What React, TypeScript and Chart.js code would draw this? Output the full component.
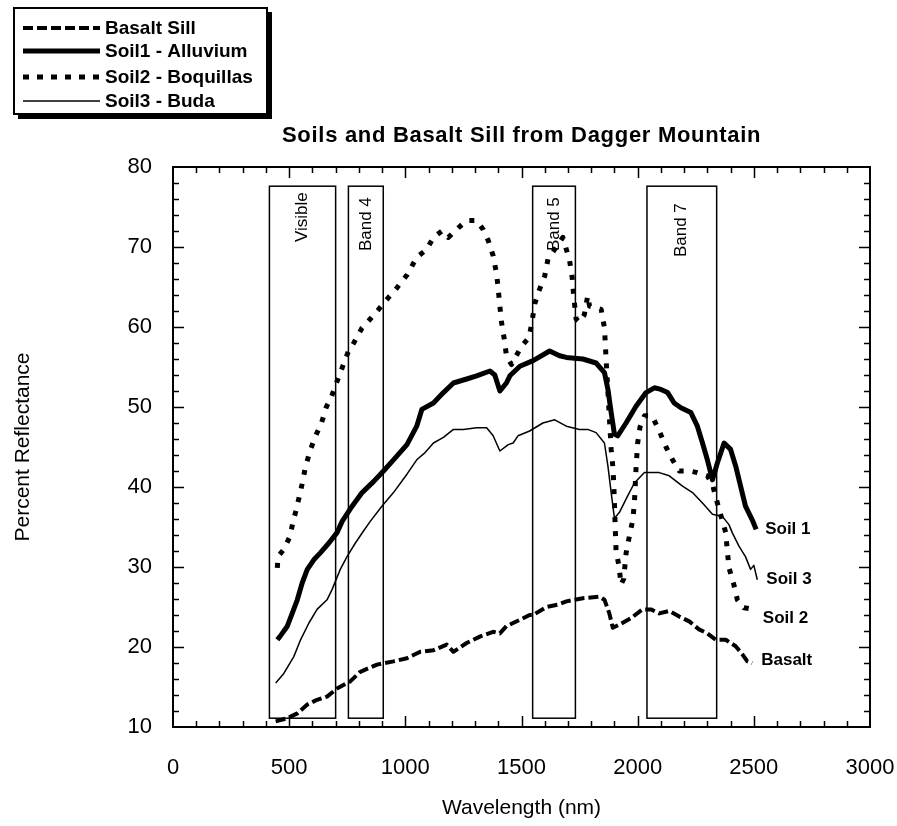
import React, { useEffect, useRef } from 'react';
import { Chart, registerables } from 'chart.js';

Chart.register(...registerables);

const FONT = '"Liberation Sans", Arial, Helvetica, sans-serif';

// ---------- data ----------
const seriesNames = ['Basalt Sill', 'Soil1 - Alluvium', 'Soil2 - Boquillas', 'Soil3 - Buda'];
const endLabels = ['Basalt', 'Soil 1', 'Soil 2', 'Soil 3'];

const basaltWl = [442, 492, 535, 578, 620, 663, 706, 763, 806, 878, 949, 1007, 1064, 1121, 1178, 1207, 1264, 1321, 1378, 1407, 1435, 1464, 1493, 1535, 1550, 1607, 1657, 1693, 1764, 1835, 1857, 1878, 1893, 1921, 1971, 2021, 2057, 2093, 2136, 2179, 2222, 2264, 2300, 2336, 2379, 2422, 2450, 2472, 2493];
const basaltRefl = [10.7, 11.1, 11.7, 12.8, 13.4, 13.8, 14.8, 15.7, 16.9, 17.8, 18.2, 18.6, 19.4, 19.6, 20.3, 19.4, 20.5, 21.3, 21.9, 21.7, 22.6, 23.0, 23.4, 24.0, 24.0, 25.0, 25.3, 25.7, 26.1, 26.3, 25.9, 24.2, 22.4, 22.8, 23.6, 24.7, 24.7, 24.2, 24.5, 23.8, 23.2, 22.2, 21.7, 20.9, 20.9, 20.1, 19.1, 18.2, 18.0];

const soil1Wl = [449, 460, 470, 492, 513, 535, 556, 578, 606, 635, 671, 706, 728, 771, 814, 864, 906, 949, 1007, 1049, 1071, 1121, 1164, 1207, 1264, 1307, 1364, 1385, 1407, 1435, 1450, 1493, 1550, 1621, 1664, 1693, 1764, 1821, 1857, 1872, 1886, 1900, 1914, 1950, 1993, 2036, 2072, 2100, 2129, 2157, 2186, 2229, 2257, 2279, 2300, 2322, 2343, 2372, 2400, 2422, 2443, 2464, 2493, 2510];
const soil1Refl = [20.9, 21.3, 21.7, 22.6, 24.2, 25.9, 28.0, 29.7, 30.9, 31.8, 33.0, 34.3, 35.7, 37.6, 39.3, 40.7, 42.0, 43.4, 45.3, 47.6, 49.7, 50.5, 51.8, 53.0, 53.5, 53.9, 54.5, 54.0, 52.0, 53.0, 53.9, 55.1, 55.8, 57.0, 56.4, 56.2, 56.0, 55.5, 54.3, 52.2, 49.3, 46.6, 46.4, 48.0, 50.1, 51.8, 52.4, 52.2, 51.8, 50.5, 49.9, 49.3, 47.6, 45.5, 43.4, 40.9, 43.0, 45.5, 44.7, 42.6, 40.1, 37.6, 35.9, 34.7];

const soil2Wl = [449, 452, 477, 503, 517, 530, 542, 556, 570, 589, 609, 639, 660, 681, 706, 732, 754, 778, 814, 849, 885, 928, 964, 1007, 1049, 1092, 1121, 1157, 1185, 1228, 1264, 1307, 1335, 1357, 1378, 1393, 1400, 1407, 1414, 1428, 1435, 1457, 1500, 1533, 1547, 1557, 1575, 1600, 1614, 1650, 1678, 1707, 1718, 1724, 1735, 1749, 1770, 1785, 1793, 1843, 1857, 1861, 1864, 1886, 1893, 1897, 1904, 1907, 1921, 1928, 1940, 1950, 1964, 1979, 1986, 1993, 2000, 2010, 2029, 2062, 2093, 2122, 2150, 2179, 2222, 2257, 2300, 2322, 2343, 2379, 2386, 2393, 2414, 2429, 2457, 2500];
const soil2Refl = [29.9, 31.3, 32.2, 33.8, 35.7, 37.1, 38.6, 40.4, 42.5, 44.4, 46.1, 48.0, 50.0, 51.2, 53.2, 55.2, 56.9, 58.0, 59.9, 61.0, 62.2, 63.7, 64.9, 66.5, 68.7, 69.7, 71.2, 72.0, 71.2, 72.4, 73.3, 73.3, 72.2, 70.8, 68.9, 66.6, 64.7, 62.6, 60.6, 58.1, 56.4, 55.3, 57.6, 58.7, 61.0, 62.9, 64.5, 66.4, 68.5, 70.0, 71.2, 68.3, 66.2, 64.1, 61.0, 60.6, 61.5, 63.9, 62.6, 62.2, 59.9, 57.8, 56.0, 44.7, 42.6, 40.5, 34.5, 32.0, 29.9, 27.8, 28.5, 31.7, 33.8, 35.9, 38.0, 42.4, 45.5, 47.5, 48.9, 48.9, 47.0, 45.0, 43.4, 42.0, 42.0, 41.8, 41.4, 40.3, 38.0, 34.3, 32.0, 29.9, 27.8, 25.9, 24.9, 24.7];

const soil3Wl = [442, 477, 520, 549, 585, 620, 663, 685, 720, 749, 785, 820, 849, 899, 949, 1007, 1049, 1085, 1121, 1164, 1207, 1249, 1307, 1350, 1378, 1407, 1443, 1464, 1485, 1535, 1592, 1643, 1693, 1749, 1785, 1821, 1857, 1872, 1886, 1900, 1921, 1957, 1986, 2029, 2093, 2136, 2193, 2236, 2279, 2322, 2365, 2393, 2407, 2436, 2464, 2486, 2500, 2515];
const soil3Refl = [15.5, 16.7, 18.8, 20.9, 23.0, 24.7, 25.9, 27.2, 29.7, 31.3, 33.0, 34.5, 35.7, 37.6, 39.3, 41.6, 43.4, 44.3, 45.5, 46.2, 47.2, 47.2, 47.4, 47.4, 46.4, 44.5, 45.3, 45.5, 46.4, 47.0, 48.0, 48.4, 47.6, 47.2, 47.2, 46.8, 45.5, 42.6, 39.3, 36.1, 36.8, 38.9, 40.5, 41.8, 41.8, 41.4, 40.1, 39.3, 38.0, 36.6, 36.3, 35.3, 34.3, 32.6, 31.3, 29.7, 30.2, 28.4];

const bandNames = ['Visible', 'Band 4', 'Band 5', 'Band 7'];
const bandStart = [415, 755, 1548, 2040];
const bandEnd = [700, 905, 1732, 2340];
const bandTopRefl = 77.6;
const bandBottomRefl = 11.1;

const xTickValues = [0, 500, 1000, 1500, 2000, 2500, 3000];
const yTickValues = [10, 20, 30, 40, 50, 60, 70, 80];

const titleText = 'Soils and Basalt Sill from Dagger Mountain';
const xTitle = 'Wavelength (nm)';
const yTitle = 'Percent Reflectance';

// ---------- styles ----------
const lineWidths = [4, 5, 5, 1.5];
const lineDashes: number[][] = [[10, 4], [], [5, 9], []];
const endLabelDy = [-3, 0, 9, 0];
const bandLabelGap = [6, 11, 11, 17];

const overlayPlugin = {
  id: 'overlay',
  beforeDatasetsDraw(chart: any) {
    const { ctx, scales } = chart;
    const xs = scales.x;
    const ys = scales.y;
    ctx.save();
    ctx.strokeStyle = '#000';
    ctx.lineWidth = 1.5;
    const yT = ys.getPixelForValue(bandTopRefl);
    const yB = ys.getPixelForValue(bandBottomRefl);
    bandNames.forEach((name, i) => {
      const x0 = xs.getPixelForValue(bandStart[i]);
      const x1 = xs.getPixelForValue(bandEnd[i]);
      ctx.strokeRect(x0, yT, x1 - x0, yB - yT);
      ctx.save();
      ctx.translate((x0 + x1) / 2, yT + bandLabelGap[i]);
      ctx.rotate(-Math.PI / 2);
      ctx.font = `17px ${FONT}`;
      ctx.fillStyle = '#000';
      ctx.textAlign = 'right';
      ctx.textBaseline = 'middle';
      ctx.fillText(name, 0, 0);
      ctx.restore();
    });
    ctx.restore();
  },
  afterDraw(chart: any) {
    const { ctx, chartArea, scales } = chart;
    const xs = scales.x;
    const ys = scales.y;
    const { left, right, top, bottom } = chartArea;
    ctx.save();
    ctx.strokeStyle = '#000';
    ctx.fillStyle = '#000';
    // frame
    ctx.lineWidth = 2;
    ctx.strokeRect(left, top, right - left, bottom - top);
    // ticks
    ctx.lineWidth = 1.5;
    ctx.beginPath();
    for (let v = 100; v < 3000; v += 100) {
      const px = Math.round(xs.getPixelForValue(v)) + 0.5;
      const len = v % 500 === 0 ? 11 : 6;
      ctx.moveTo(px, bottom);
      ctx.lineTo(px, bottom - len);
      ctx.moveTo(px, top);
      ctx.lineTo(px, top + len);
    }
    for (let v = 12; v < 80; v += 2) {
      const py = Math.round(ys.getPixelForValue(v)) + 0.5;
      const len = v % 10 === 0 ? 11 : 6;
      ctx.moveTo(left, py);
      ctx.lineTo(left + len, py);
      ctx.moveTo(right, py);
      ctx.lineTo(right - len, py);
    }
    ctx.stroke();

    // end labels
    ctx.font = `bold 17px ${FONT}`;
    ctx.textAlign = 'left';
    ctx.textBaseline = 'middle';
    chart.data.datasets.forEach((ds: any, i: number) => {
      const meta = chart.getDatasetMeta(i);
      const last = meta.data[meta.data.length - 1];
      ctx.fillText(endLabels[i], last.x + 9, last.y + endLabelDy[i]);
    });

    // title
    ctx.font = `bold 22px ${FONT}`;
    (ctx as any).letterSpacing = '0.7px';
    ctx.textBaseline = 'alphabetic';
    ctx.textAlign = 'left';
    ctx.fillText(titleText, 282, 142);
    (ctx as any).letterSpacing = '0px';

    // legend box with shadow
    ctx.lineWidth = 2;
    ctx.strokeRect(14, 8, 253, 106);
    ctx.fillRect(267, 12, 5, 107);
    ctx.fillRect(18, 114, 254, 5);

    const baselines = [34, 57, 83, 107];
    ctx.font = `bold 19px ${FONT}`;
    seriesNames.forEach((name, i) => {
      const yy = baselines[i] - 6;
      ctx.save();
      ctx.lineWidth = i === 3 ? 1.5 : i === 0 ? 4 : 5;
      ctx.setLineDash(i === 2 ? [6, 8] : lineDashes[i]);
      ctx.beginPath();
      ctx.moveTo(23, yy);
      ctx.lineTo(100, yy);
      ctx.stroke();
      ctx.restore();
      ctx.fillText(name, 105, baselines[i]);
    });
    ctx.restore();
  },
};

const makeData = (wl: number[], refl: number[]) => wl.map((w, i) => ({ x: w, y: refl[i] }));

export default function App() {
  const canvasRef = useRef<HTMLCanvasElement | null>(null);

  useEffect(() => {
    if (!canvasRef.current) return;
    const series = [
      makeData(basaltWl, basaltRefl),
      makeData(soil1Wl, soil1Refl),
      makeData(soil2Wl, soil2Refl),
      makeData(soil3Wl, soil3Refl),
    ];
    const chart = new Chart(canvasRef.current, {
      type: 'line',
      data: {
        datasets: series.map((d, i) => ({
          label: seriesNames[i],
          data: d,
          borderColor: '#000',
          backgroundColor: '#000',
          borderWidth: lineWidths[i],
          borderDash: lineDashes[i],
          borderCapStyle: 'butt',
          borderJoinStyle: 'round',
          pointRadius: 0,
          tension: 0,
          fill: false,
        })),
      },
      options: {
        animation: false,
        responsive: false,
        devicePixelRatio: 1,
        layout: { padding: { left: 0, top: 167, right: 0, bottom: 0 } },
        plugins: {
          legend: { display: false },
          tooltip: { enabled: false },
          title: { display: false },
        },
        scales: {
          x: {
            type: 'linear',
            min: 0,
            max: 3000,
            grid: { display: false, drawTicks: false },
            border: { display: false },
            afterBuildTicks: (scale: any) => {
              scale.ticks = xTickValues.map((v) => ({ value: v }));
            },
            afterFit: (scale: any) => {
              scale.height = 99;
              scale.paddingRight = 27;
              scale.paddingLeft = 0;
            },
            ticks: {
              autoSkip: false,
              maxRotation: 0,
              padding: 28,
              color: '#000',
              font: { family: FONT, size: 22 },
              callback: (v: any) => String(v),
            },
            title: {
              display: true,
              text: xTitle,
              color: '#000',
              font: { family: FONT, size: 21 },
              padding: { top: 0, bottom: 5 },
            },
          },
          y: {
            type: 'linear',
            min: 10,
            max: 80,
            grid: { display: false, drawTicks: false },
            border: { display: false },
            afterBuildTicks: (scale: any) => {
              scale.ticks = yTickValues.map((v) => ({ value: v }));
            },
            afterFit: (scale: any) => {
              scale.width = 173;
            },
            ticks: {
              autoSkip: false,
              padding: 21,
              color: '#000',
              font: { family: FONT, size: 22 },
              callback: (v: any) => String(v),
            },
            title: {
              display: true,
              text: yTitle,
              color: '#000',
              font: { family: FONT, size: 21 },
              padding: { top: 11, bottom: 0 },
            },
          },
        },
      },
      plugins: [overlayPlugin],
    });
    return () => chart.destroy();
  }, []);

  return (
    <div style={{ position: 'absolute', left: 0, top: 0, width: 897, height: 826, background: '#fff' }}>
      <canvas ref={canvasRef} width={897} height={826} style={{ display: 'block' }} />
    </div>
  );
}
